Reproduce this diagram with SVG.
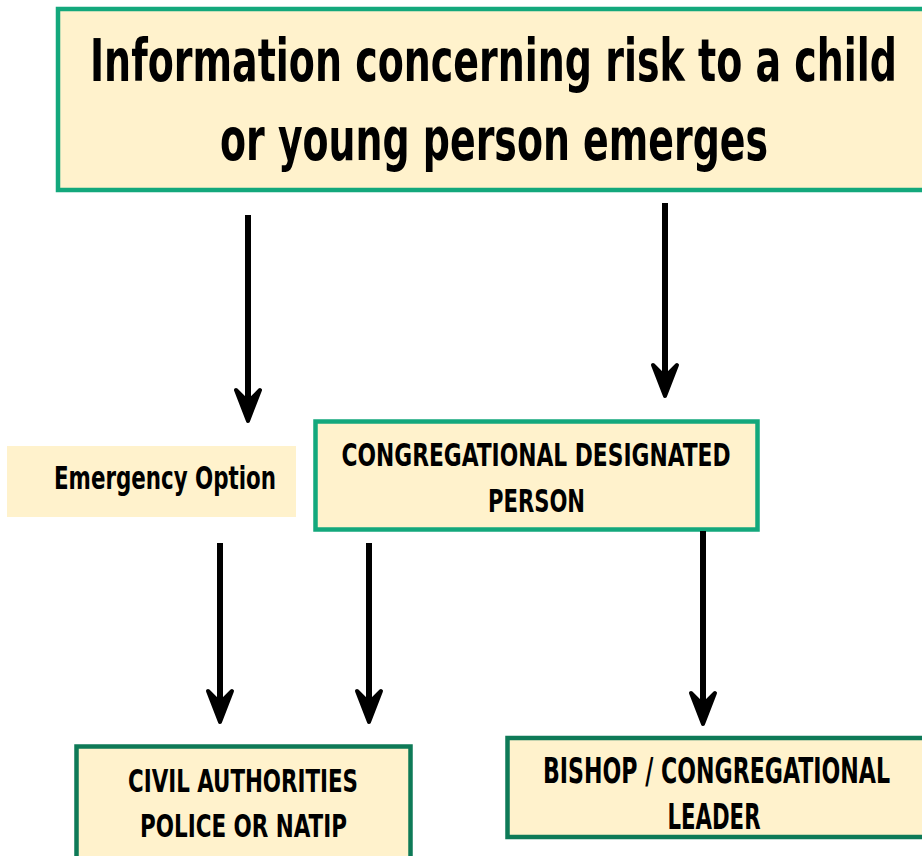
<svg xmlns="http://www.w3.org/2000/svg" width="922" height="856" viewBox="0 0 922 856">
  <style>
    .box { fill: #fff2cc; }
    .edge-light { stroke: #13a87c; stroke-width: 4.5; }
    .edge-dark { stroke: #0e7a57; stroke-width: 4.5; }
    .label { font-family: "Liberation Sans Narrow", "DejaVu Sans Condensed", "Liberation Sans", sans-serif; font-weight: bold; fill: #000; text-anchor: middle; }
    .conn { stroke: #000; stroke-width: 6; fill: none; marker-end: url(#head); }
  </style>
  <defs>
    <marker id="head" markerUnits="userSpaceOnUse" viewBox="-24 -16 40 32" markerWidth="40" markerHeight="32" refX="0" refY="0" orient="auto">
      <path d="M11,0 L-20,-12 L-8,0 L-20,12 Z" fill="#000" stroke="#000" stroke-width="4" stroke-linejoin="round"/>
    </marker>
  </defs>

  <rect width="922" height="856" fill="#fff"/>

  <g id="node-risk">
    <rect class="box edge-light" x="58" y="9" width="900" height="181"/>
    <text class="label" x="493.5" y="81" font-size="59" textLength="807" lengthAdjust="spacingAndGlyphs">Information concerning risk to a child</text>
    <text class="label" x="494" y="160" font-size="59" textLength="548" lengthAdjust="spacingAndGlyphs">or young person emerges</text>
  </g>

  <g id="node-emergency">
    <rect class="box" x="7" y="446" width="289" height="71"/>
    <text class="label" x="165" y="489" font-size="32" textLength="222" lengthAdjust="spacingAndGlyphs">Emergency Option</text>
  </g>

  <g id="node-designated">
    <rect class="box edge-light" x="315.5" y="421.5" width="442" height="108"/>
    <text class="label" x="536" y="466" font-size="32" textLength="389" lengthAdjust="spacingAndGlyphs">CONGREGATIONAL DESIGNATED</text>
    <text class="label" x="536.5" y="512" font-size="32" textLength="97" lengthAdjust="spacingAndGlyphs">PERSON</text>
  </g>

  <g id="node-civil">
    <rect class="box edge-dark" x="76.5" y="746.5" width="334" height="130"/>
    <text class="label" x="243" y="792" font-size="32" textLength="230" lengthAdjust="spacingAndGlyphs">CIVIL AUTHORITIES</text>
    <text class="label" x="243.5" y="837" font-size="32" textLength="207" lengthAdjust="spacingAndGlyphs">POLICE OR NATIP</text>
  </g>

  <g id="node-bishop">
    <rect class="box edge-dark" x="507.5" y="738" width="450" height="99"/>
    <text class="label" x="716.5" y="783" font-size="36" textLength="347" lengthAdjust="spacingAndGlyphs">BISHOP / CONGREGATIONAL</text>
    <text class="label" x="714" y="829" font-size="36" textLength="93" lengthAdjust="spacingAndGlyphs">LEADER</text>
  </g>

  <g id="connectors">
    <line class="conn" x1="248" y1="215" x2="248" y2="410"/>
    <line class="conn" x1="665" y1="203" x2="665" y2="385"/>
    <line class="conn" x1="220" y1="543" x2="220" y2="711"/>
    <line class="conn" x1="369" y1="543" x2="369" y2="711"/>
    <line class="conn" x1="703" y1="531" x2="703" y2="713"/>
  </g>
</svg>
